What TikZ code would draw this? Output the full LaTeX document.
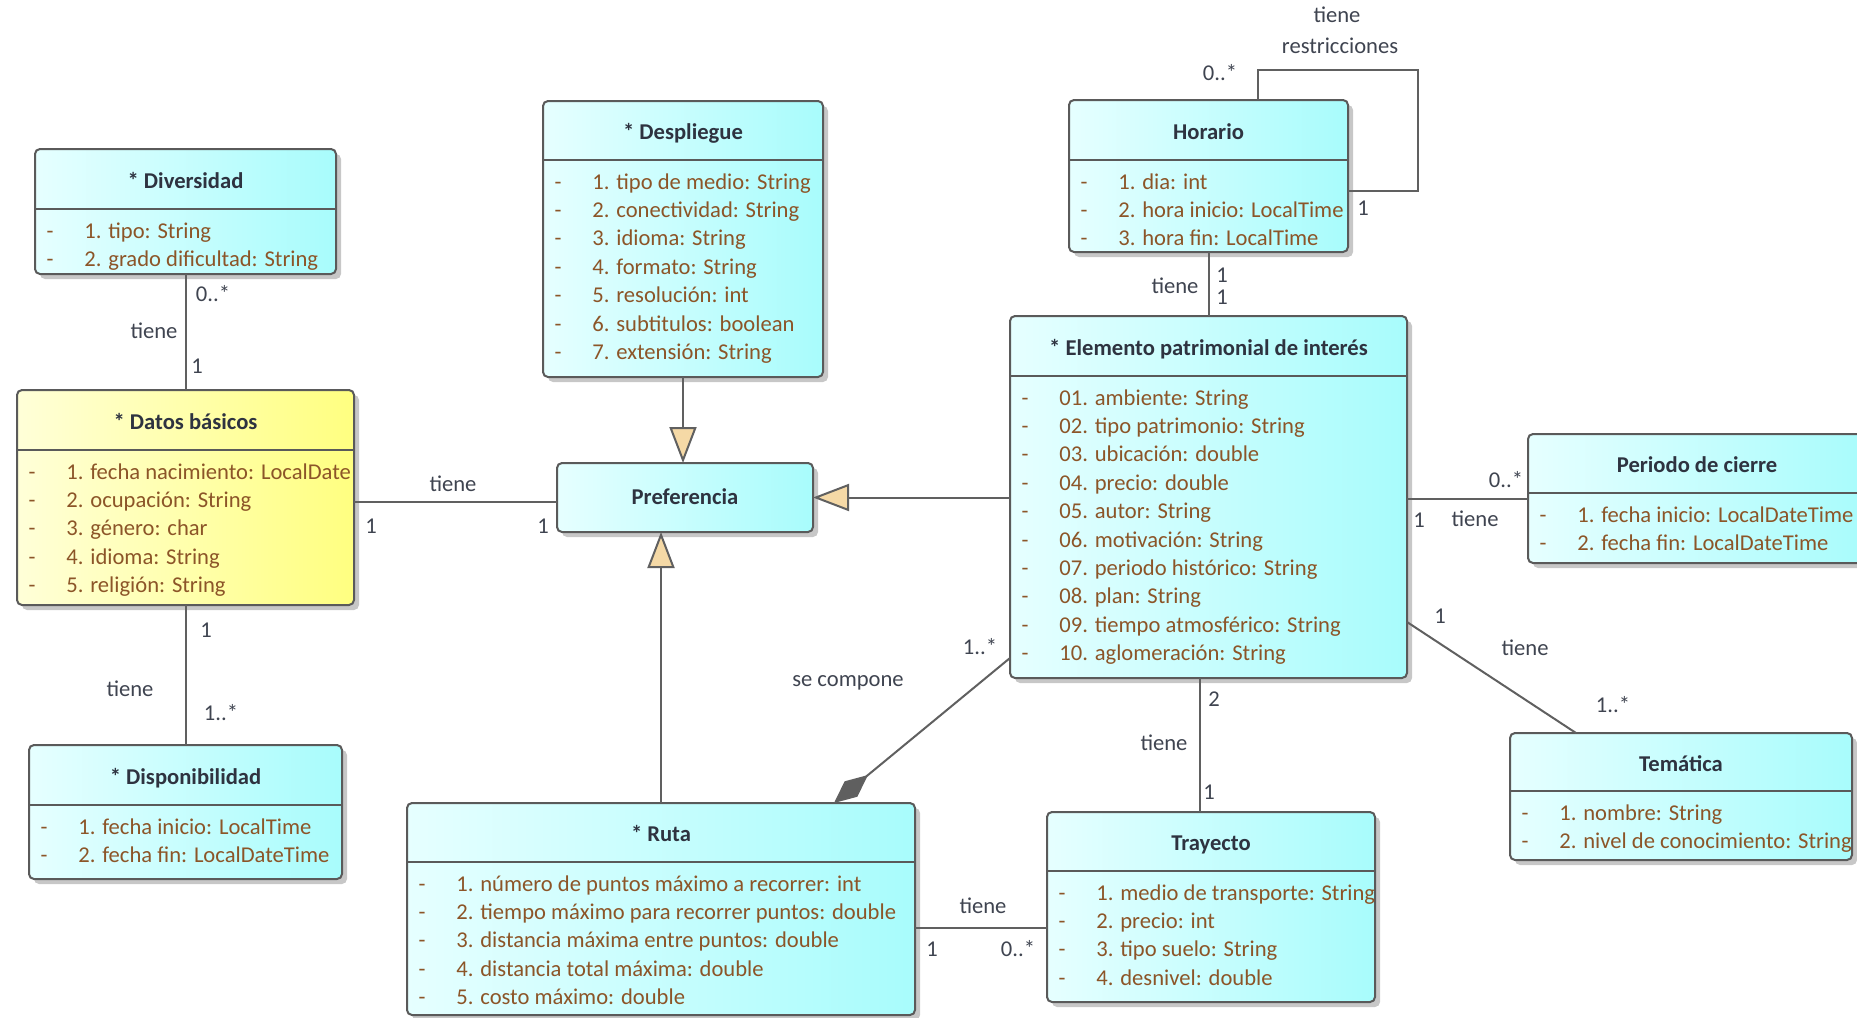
\documentclass[tikz,border=0pt]{standalone}
\usepackage{fontspec}
\setmainfont{Carlito}
\usetikzlibrary{arrows.meta,fit,shadows,calc}

\definecolor{cyL}{HTML}{E6FFFF}
\definecolor{cyR}{HTML}{A8FCFC}
\definecolor{yeL}{HTML}{FFFFD8}
\definecolor{yeR}{HTML}{FFFF80}
\definecolor{bord}{HTML}{5A5A5A}
\definecolor{ttl}{HTML}{2E3340}
\definecolor{attc}{HTML}{8C5528}
\definecolor{lbl}{HTML}{3F4450}
\definecolor{genfill}{HTML}{F5D9A6}
\definecolor{compfill}{HTML}{5F5F5F}
\definecolor{connc}{HTML}{606060}

\tikzset{
  box/.style={draw=bord, line width=1pt, rounded corners=2.5pt, inner sep=0pt, outer sep=0pt,
    drop shadow={shadow xshift=2.5pt, shadow yshift=-2.5pt, fill=black, opacity=0.22}},
  cybox/.style={box, left color=cyL, right color=cyR},
  yebox/.style={box, left color=yeL, right color=yeR},
  ttlnode/.style={font=\fontsize{11.3}{13}\selectfont\bfseries, text=ttl, inner sep=0pt, anchor=base},
  attnode/.style={font=\fontsize{11.3}{13}\selectfont, text=attc, inner sep=0pt, anchor=base west},
  dashnode/.style={font=\fontsize{11.3}{13}\selectfont, text=attc, inner sep=0pt, anchor=base},
  lab/.style={font=\fontsize{11.3}{13}\selectfont, text=lbl, inner sep=0pt, anchor=base},
  conn/.style={draw=connc, line width=1pt},
  gen/.style={conn, -{Triangle[length=18pt,width=13.5pt,fill=genfill]}},
  comp/.style={conn, -{Diamond[length=22pt,width=10pt,fill=compfill]}},
}

% #1 name, #2 x1, #3 y1, #4 x2, #5 y2, #6 divider y, #7 title, #8 attributes, #9 style
\newcommand\umlclass[9]{%
  \node[fit={(#2,#3) (#4,#5)}, #9] (#1) {};
  \draw[draw=bord, line width=1pt] (#2,#6) -- (#4,#6);
  \node[ttlnode] (#1-t) at ({(#2+#4)/2}, {(#3+#6)/2+9}) {#7};
  \foreach \a [count=\i from 0] in {#8}{%
    \node[dashnode] (#1-d\i) at (#2+15, #6+29+28.4*\i) {-};
    \node[attnode] (#1-a\i) at (#2+49, #6+29+28.4*\i) {\a};
  }%
}

\begin{document}
\begin{tikzpicture}[x=0.5pt, y=-0.5pt]
\useasboundingbox (0,0) rectangle (1857,1017);

% classes
\umlclass{divers}{35}{149}{336}{274}{209}{* Diversidad}{1. tipo: String, 2. grado dificultad: String}{cybox}
\umlclass{datos}{17}{390}{354}{605}{450}{* Datos básicos}{1. fecha nacimiento: LocalDate, 2. ocupación: String, 3. género: char, 4. idioma: String, 5. religión: String}{yebox}
\umlclass{dispon}{29}{745}{342}{879}{805}{* Disponibilidad}{1. fecha inicio: LocalTime, 2. fecha fin: LocalDateTime}{cybox}
\umlclass{desp}{543}{101}{823}{377}{160}{* Despliegue}{1. tipo de medio: String, 2. conectividad: String, 3. idioma: String, 4. formato: String, 5. resolución: int, 6. subtitulos: boolean, 7. extensión: String}{cybox}
\umlclass{hor}{1069}{100}{1348}{252}{160}{Horario}{1. dia: int, 2. hora inicio: LocalTime, 3. hora fin: LocalTime}{cybox}
\umlclass{elem}{1010}{316}{1407}{678}{376}{* Elemento patrimonial de interés}{01. ambiente: String, 02. tipo patrimonio: String, 03. ubicación: double, 04. precio: double, 05. autor: String, 06. motivación: String, 07. periodo histórico: String, 08. plan: String, 09. tiempo atmosférico: String, 10. aglomeración: String}{cybox}
\umlclass{per}{1528}{434}{1866}{563}{493}{Periodo de cierre}{1. fecha inicio: LocalDateTime, 2. fecha fin: LocalDateTime}{cybox}
\umlclass{tem}{1510}{733}{1852}{860}{791}{Temática}{1. nombre: String, 2. nivel de conocimiento: String}{cybox}
\umlclass{ruta}{407}{803}{915}{1015}{862}{* Ruta}{1. número de puntos máximo a recorrer: int, 2. tiempo máximo para recorrer puntos: double, 3. distancia máxima entre puntos: double, 4. distancia total máxima: double, 5. costo máximo: double}{cybox}
\umlclass{tray}{1047}{812}{1375}{1002}{871}{Trayecto}{1. medio de transporte: String, 2. precio: int, 3. tipo suelo: String, 4. desnivel: double}{cybox}

\node[fit={(557,463) (813,532)}, cybox] (pref) {};
\node[ttlnode] (pref-t) at (685,504.5) {Preferencia};

% connectors
\draw[conn] (divers.south) -- (datos.north);
\draw[conn] (datos.south) -- (dispon.north);
\draw[conn] (datos.east |- 0,502) -- (pref.west |- 0,502);
\draw[gen] (desp.south) -- (desp.south |- pref.north);
\draw[gen] (elem.west |- pref.east) -- (pref.east);
\draw[gen] (ruta.north -| 661,0) -- (pref.south -| 661,0);
\draw[comp] (elem.west |- 0,658) -- (ruta.north -| 834,0);
\draw[conn] (hor.south) -- (elem.north);
\draw[conn] (hor.north -| 1258,0) |- (1418,70) |- (hor.east |- 0,191);
\draw[conn] (elem.east |- per.west) -- (per.west);
\draw[conn] (elem.east |- 0,622) -- (tem.north -| 1576,0);
\draw[conn] (elem.south -| 1200,0) -- (tray.north -| 1200,0);
\draw[conn] (ruta.east |- 0,928) -- (tray.west |- 0,928);

% labels
\node[lab] (l1) at (213,301) {0..*};
\node[lab] (l2) at (154,338) {tiene};
\node[lab] (l3) at (197,373) {1};
\node[lab] (l4) at (453,491) {tiene};
\node[lab] (l5) at (371,533) {1};
\node[lab] (l6) at (543,533) {1};
\node[lab] (l7) at (206,637) {1};
\node[lab] (l8) at (130,696) {tiene};
\node[lab] (l9) at (221,720) {1..*};
\node[lab] (l10) at (1337,23) {tiene};
\node[lab] (l11) at (1340,53) {restricciones};
\node[lab] (l12) at (1220,80) {0..*};
\node[lab] (l13) at (1363,215) {1};
\node[lab] (l14) at (1175,293) {tiene};
\node[lab] (l15) at (1222,282) {1};
\node[lab] (l16) at (1222,304) {1};
\node[lab] (l17) at (1506,487) {0..*};
\node[lab] (l18) at (1419,527) {1};
\node[lab] (l19) at (1475,526) {tiene};
\node[lab] (l20) at (1440,623) {1};
\node[lab] (l21) at (1525,655) {tiene};
\node[lab] (l22) at (1613,712) {1..*};
\node[lab] (l23) at (1214,706) {2};
\node[lab] (l24) at (1164,750) {tiene};
\node[lab] (l25) at (1209,799) {1};
\node[lab] (l26) at (848,686) {se compone};
\node[lab] (l27) at (980,654) {1..*};
\node[lab] (l28) at (983,913) {tiene};
\node[lab] (l29) at (932,956) {1};
\node[lab] (l30) at (1018,956) {0..*};
\end{tikzpicture}
\end{document}
